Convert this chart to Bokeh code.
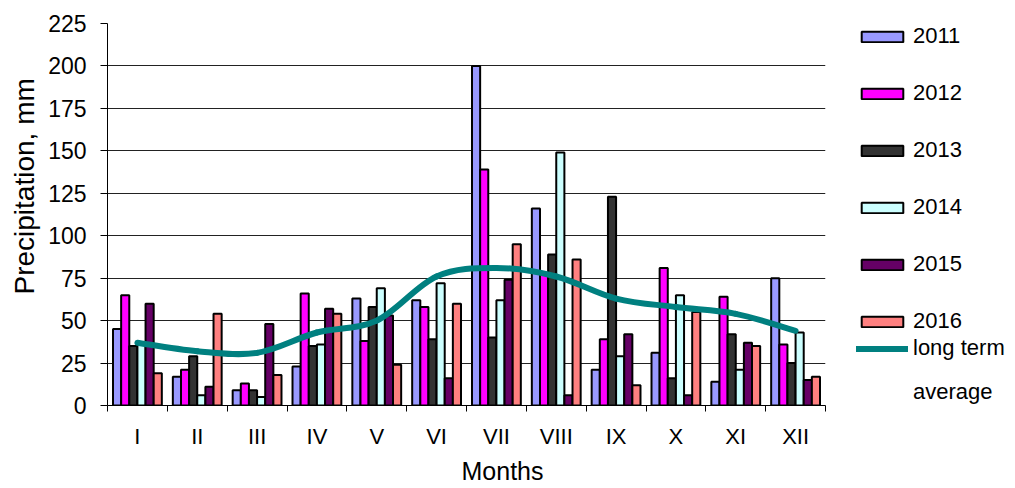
import numpy as np
from bokeh.plotting import figure
from bokeh.layouts import row
from bokeh.models import Range1d, FixedTicker, Legend, LegendItem, Title
from bokeh.embed import file_html
from bokeh.resources import INLINE

months = ["I", "II", "III", "IV", "V", "VI", "VII", "VIII", "IX", "X", "XI", "XII"]
years = ["2011", "2012", "2013", "2014", "2015", "2016"]
p2011 = [45, 17, 9, 23, 63, 62, 200, 116, 21, 31, 14, 75]
p2012 = [65, 21, 13, 66, 38, 58, 139, 77, 39, 81, 64, 36]
p2013 = [35, 29, 9, 35, 58, 39, 40, 89, 123, 16, 42, 25]
p2014 = [36, 6, 5, 36, 69, 72, 62, 149, 29, 65, 21, 43]
p2015 = [60, 11, 48, 57, 53, 16, 74, 6, 42, 6, 37, 15]
p2016 = [19, 54, 18, 54, 24, 60, 95, 86, 12, 55, 35, 17]
long_term = [37, 32, 31, 43, 50, 76, 81, 76, 63, 58, 54, 44]
y_ticks = [0, 25, 50, 75, 100, 125, 150, 175, 200, 225]
line_label = ["long term", "average"]

series = [p2011, p2012, p2013, p2014, p2015, p2016]
colors = ["#9999FF", "#FF00FF", "#333333", "#CCFFFF", "#660066", "#FF8080"]
LINE_COLOR = "#008080"
FONT = "Liberation Sans"

p = figure(width=835, height=488, output_backend="svg", toolbar_location=None,
           x_range=Range1d(0, 12), y_range=Range1d(0, 225),
           min_border_left=107, min_border_right=10, min_border_top=23,
           min_border_bottom=82)
p.outline_line_color = None
p.background_fill_color = "white"
p.border_fill_color = "white"

# axes
centers = np.arange(len(months)) + 0.5
p.xaxis.ticker = FixedTicker(ticks=list(centers), minor_ticks=list(range(len(months) + 1)))
p.xaxis.major_label_overrides = {float(c): m for c, m in zip(centers, months)}
p.xaxis.major_tick_out = 0
p.xaxis.major_tick_in = 0
p.xaxis.minor_tick_out = 6
p.xaxis.minor_tick_in = 0
p.xaxis.major_label_standoff = 12
p.xaxis.major_label_text_font = FONT
p.xaxis.major_label_text_font_size = "22px"
p.xaxis.major_label_text_color = "black"
p.xaxis.axis_line_color = "black"

p.yaxis.ticker = FixedTicker(ticks=y_ticks, minor_ticks=[])
p.yaxis.major_tick_out = 7
p.yaxis.major_tick_in = 0
p.yaxis.minor_tick_out = 0
p.yaxis.major_label_standoff = 14
p.yaxis.major_label_text_font = FONT
p.yaxis.major_label_text_font_size = "23px"
p.yaxis.major_label_text_color = "black"
p.yaxis.axis_line_color = "black"

p.xgrid.grid_line_color = None
p.ygrid.grid_line_color = "#222222"
p.ygrid.grid_line_width = 1

# bars
n = len(series)
bw = 0.136
for k, (vals, col) in enumerate(zip(series, colors)):
    xs = centers + (k - (n - 1) / 2) * bw
    p.vbar(x=xs, top=vals, bottom=0, width=bw, fill_color=col,
           line_color="black", line_width=2)

# smoothed long-term average (Bezier through the monthly points)
xs = centers
ys = np.array(long_term, dtype=float)
xp = np.concatenate([[xs[0]], xs, [xs[-1]]])
yp = np.concatenate([[ys[0]], ys, [ys[-1]]])
x0 = xs[:-1]; y0 = ys[:-1]; x1 = xs[1:]; y1 = ys[1:]
cx0 = x0 + (xp[2:-1] - xp[:-3]) / 6.0
cy0 = y0 + (yp[2:-1] - yp[:-3]) / 6.0
cx1 = x1 - (xp[3:] - xp[1:-2]) / 6.0
cy1 = y1 - (yp[3:] - yp[1:-2]) / 6.0
p.bezier(x0=x0, y0=y0, x1=x1, y1=y1, cx0=cx0, cy0=cy0, cx1=cx1, cy1=cy1,
         line_color=LINE_COLOR, line_width=6, line_cap="round")

# axis titles
p.add_layout(Title(text="Precipitation, mm", align="left", offset=111,
                   text_font=FONT, text_font_size="28px", text_font_style="normal",
                   text_color="black", standoff=12), "left")
p.add_layout(Title(text="Months", align="left", offset=354,
                   text_font=FONT, text_font_size="25px", text_font_style="normal",
                   text_color="black", standoff=7), "below")

# legend panel: separate figure whose (hidden) renderers carry the same styles
lg = figure(width=180, height=488, output_backend="svg", toolbar_location=None,
            x_range=Range1d(0, 12), y_range=Range1d(0, 225),
            x_axis_type=None, y_axis_type=None,
            min_border_left=21, min_border_top=23, min_border_right=0, min_border_bottom=82)
lg.outline_line_color = None
lg.xgrid.grid_line_color = None
lg.ygrid.grid_line_color = None
lg.border_fill_color = "white"
lg.background_fill_color = "white"
items = []
for k, (vals, col, yr) in enumerate(zip(series, colors, years)):
    r = lg.vbar(x=centers, top=vals, width=bw, fill_color=col, line_color="black",
                line_width=2, visible=False)
    items.append(LegendItem(label=yr, renderers=[r]))
rl = lg.line(x=centers, y=long_term, line_color=LINE_COLOR, line_width=6,
             line_cap="round", visible=False)
rl2 = lg.line(x=centers, y=long_term, line_alpha=0, visible=False)

common = dict(orientation="vertical", glyph_width=52, glyph_height=13, label_height=24,
              padding=0, margin=0, label_standoff=5, click_policy="none",
              label_text_font=FONT, label_text_font_size="22px",
              label_text_color="black", border_line_color=None,
              background_fill_alpha=0)
legend1 = Legend(items=items, location="top_left", spacing=31, **common)
legend2 = Legend(items=[LegendItem(label=line_label[0], renderers=[rl]),
                        LegendItem(label=line_label[1], renderers=[rl2])],
                 location="bottom_left", spacing=18, **common)
lg.add_layout(legend1, "center")
lg.add_layout(legend2, "center")

layout = row(p, lg, spacing=0)
open("out.html", "w").write(file_html(layout, INLINE))
